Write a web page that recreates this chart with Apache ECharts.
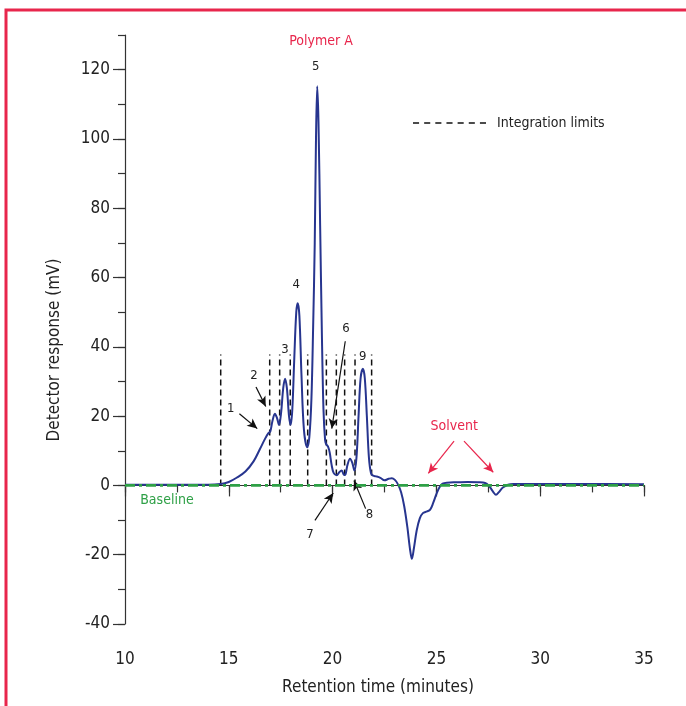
<!DOCTYPE html>
<html>
<head>
<meta charset="utf-8">
<script src="https://cdn.jsdelivr.net/npm/echarts@6/dist/echarts.min.js"></script>
<style>
  html, body { margin: 0; padding: 0; background: #fff; }
  #chart { width: 686px; height: 706px; }
</style>
</head>
<body>
<div id="chart"></div>
<script>
// chromatogram trace, [minutes, mV]
const trace = [
  [10, 0.2], [12, 0.2], [14, 0.2], [14.6, 0.4], [15.0, 1.0], [15.4, 2.3], [15.8, 4.0],
  [16.2, 7.0], [16.5, 10.5], [16.75, 13.5], [16.9, 15.0], [17.0, 15.6], [17.1, 18.5],
  [17.22, 20.7], [17.32, 19.5], [17.42, 17.5], [17.52, 21], [17.62, 28], [17.71, 30.8],
  [17.8, 28], [17.9, 20], [17.98, 17.5], [18.06, 22], [18.15, 36], [18.25, 50],
  [18.32, 52.6], [18.4, 49], [18.5, 32], [18.62, 16], [18.78, 11], [18.88, 14],
  [18.98, 25], [19.06, 45], [19.14, 70], [19.2, 100], [19.26, 115.2], [19.32, 105],
  [19.4, 75], [19.48, 45], [19.56, 22], [19.64, 13], [19.7, 11.8], [19.78, 11.2],
  [19.86, 9.5], [19.95, 6], [20.05, 3.6], [20.2, 2.9], [20.32, 3.8], [20.44, 4.3],
  [20.55, 3.0], [20.62, 3.2], [20.72, 6], [20.84, 7.7], [20.95, 6.5], [21.05, 4.3],
  [21.15, 8], [21.25, 20], [21.35, 31], [21.46, 33.7], [21.55, 31], [21.65, 20],
  [21.75, 8], [21.85, 3.5], [21.95, 2.8], [22.1, 2.6], [22.3, 2.2], [22.5, 1.5],
  [22.7, 1.9], [22.85, 2.1], [23.0, 1.6], [23.15, 0.3], [23.3, -2], [23.45, -6],
  [23.6, -12], [23.72, -18], [23.82, -21.2], [23.92, -18], [24.05, -13], [24.2, -9.5],
  [24.35, -8], [24.55, -7.5], [24.7, -7], [24.85, -5], [25.0, -2.5], [25.15, -0.5],
  [25.3, 0.5], [25.5, 0.8], [26, 0.9], [26.5, 1.0], [27, 0.9], [27.35, 0.7],
  [27.55, -0.3], [27.75, -2.0], [27.87, -2.7], [28.0, -2.0], [28.2, -0.6], [28.45, 0.2],
  [28.7, 0.4], [30, 0.4], [32, 0.4], [35, 0.3]
];

// integration limit positions (minutes) and their height (mV)
const limits = [14.61, 16.97, 17.45, 17.96, 18.80, 19.70, 20.18, 20.58, 21.08, 21.88];
const limitTop = 37.8;

// peak numbers: [label, minutes, mV]
const peakLabels = [
  ['1', 15.09, 22.1], ['2', 16.21, 31.7], ['3', 17.71, 39.2], ['4', 18.25, 57.9],
  ['5', 19.19, 121], ['6', 20.64, 45.2], ['7', 18.91, -14.1], ['8', 21.77, -8.5],
  ['9', 21.45, 37.2]
];

// arrows: [from, to]
const peakArrows = [
  [[15.51, 20.7], [16.37, 16.4]],
  [[16.31, 28.4], [16.78, 22.8]],
  [[20.61, 41.6], [19.96, 16.4]],
  [[19.15, -10.1], [20.03, -2.2]],
  [[21.59, -6.7], [21.03, 1.4]]
];
const solventArrows = [
  [[25.85, 12.8], [24.61, 3.5]],
  [[26.33, 12.8], [27.74, 3.8]]
];

const xMajor = [10, 15, 20, 25, 30, 35];
const yMajor = [-40, -20, 0, 20, 40, 60, 80, 100, 120];

const FONT = '"Liberation Sans Narrow", "DejaVu Sans Condensed", "Roboto Condensed", sans-serif';
const BLUE = '#27358f';
const RED = '#e8264c';
const GREEN = '#2ea046';
const AXIS = '#333';

const limitData = [];
limits.forEach(t => {
  limitData.push([t, 0], [t, limitTop], [t, '-']);
});

// seven short dashes for the legend key
let dashIcon = 'path://';
for (let i = 0; i < 7; i++) {
  dashIcon += 'M' + (i * 11) + ' 0h6v1.4h-6z';
}

const chart = echarts.init(document.getElementById('chart'));

chart.setOption({
  animation: false,
  textStyle: { fontFamily: FONT },
  grid: { left: 125, right: 42, top: 35, bottom: 82 },
  legend: {
    data: [{ name: 'Integration limits', icon: dashIcon }],
    left: 408, top: 111,
    itemWidth: 73, itemHeight: 1.6, itemGap: 6,
    symbolKeepAspect: false,
    textStyle: { fontFamily: FONT, fontSize: 14, color: '#222', padding: [0, 0, 0, 6] },
    selectedMode: false
  },
  xAxis: [
    {
      type: 'value', min: 10, max: 35, interval: 2.5,
      axisLine: { lineStyle: { color: AXIS, width: 1.2 } },
      axisTick: { length: 7, lineStyle: { color: AXIS, width: 1.2 } },
      axisLabel: { show: false },
      splitLine: { show: false }
    },
    {
      type: 'value', min: 10, max: 35, interval: 5, position: 'bottom',
      axisLine: { show: false },
      axisTick: { length: 11, customValues: xMajor, lineStyle: { color: AXIS, width: 1.2 } },
      axisLabel: { customValues: xMajor, margin: 27, fontSize: 17, color: '#222', fontFamily: FONT },
      splitLine: { show: false }
    }
  ],
  yAxis: [
    {
      type: 'value', min: -40, max: 130, interval: 10,
      axisLine: { show: true, lineStyle: { color: AXIS, width: 1.2 } },
      axisTick: { show: true, length: 7, lineStyle: { color: AXIS, width: 1.2 } },
      axisLabel: { show: false },
      splitLine: { show: false }
    },
    {
      type: 'value', min: -40, max: 130, interval: 20, position: 'left',
      axisLine: { show: false },
      axisTick: { show: true, length: 12, customValues: yMajor, lineStyle: { color: AXIS, width: 1.2 } },
      axisLabel: { customValues: yMajor, margin: 15, fontSize: 17, color: '#222', fontFamily: FONT },
      splitLine: { show: false }
    }
  ],
  graphic: [
    {
      type: 'rect', silent: true, z: 0,
      shape: { x: 6, y: 10, width: 760, height: 760 },
      style: { fill: 'none', stroke: RED, lineWidth: 3 }
    },
    {
      type: 'text', x: 55, y: 350, rotation: Math.PI / 2,
      style: { text: 'Detector response (mV)', font: '17px ' + FONT, fill: '#222', align: 'center', verticalAlign: 'middle' }
    },
    {
      type: 'text', x: 378, y: 688,
      style: { text: 'Retention time (minutes)', font: '17px ' + FONT, fill: '#222', align: 'center', verticalAlign: 'middle' }
    }
  ],
  series: [
    {
      name: 'Integration limits',
      type: 'line',
      data: limitData,
      showSymbol: false,
      symbol: 'none',
      connectNulls: false,
      lineStyle: { color: '#111', width: 1.5, type: [6, 4] },
      itemStyle: { color: '#111' },
      z: 2
    },
    {
      name: 'Polymer A',
      type: 'line',
      data: trace,
      smooth: 0.35,
      showSymbol: false,
      symbol: 'none',
      lineStyle: { color: BLUE, width: 2 },
      z: 3,
      markPoint: {
        symbol: 'circle', symbolSize: 0,
        label: { show: true, fontFamily: FONT, fontSize: 13, color: '#222', formatter: p => p.name },
        data: peakLabels.map(d => ({ name: d[0], coord: [d[1], d[2]] })).concat([
          { name: 'Polymer A', coord: [19.44, 128.3], label: { color: RED, fontSize: 14 } },
          { name: 'Solvent', coord: [25.86, 17.0], label: { color: RED, fontSize: 14 } },
          { name: 'Baseline', coord: [12.02, -4.3], label: { color: GREEN, fontSize: 14 } }
        ])
      },
      markLine: {
        silent: true,
        symbol: ['none', 'arrow'],
        symbolSize: [7, 10],
        label: { show: false },
        data: peakArrows.map(a => [
          { coord: a[0], lineStyle: { color: '#111', width: 1.2, type: 'solid' } },
          { coord: a[1] }
        ]).concat(solventArrows.map(a => [
          { coord: a[0], lineStyle: { color: RED, width: 1.2, type: 'solid' } },
          { coord: a[1] }
        ]))
      }
    },
    {
      name: 'Baseline',
      type: 'line',
      data: [[10, 0], [35, 0]],
      showSymbol: false,
      symbol: 'none',
      lineStyle: { color: GREEN, width: 2.6, type: [10, 4, 3, 4], opacity: 1 },
      z: 10
    }
  ]
});
</script>
</body>
</html>
